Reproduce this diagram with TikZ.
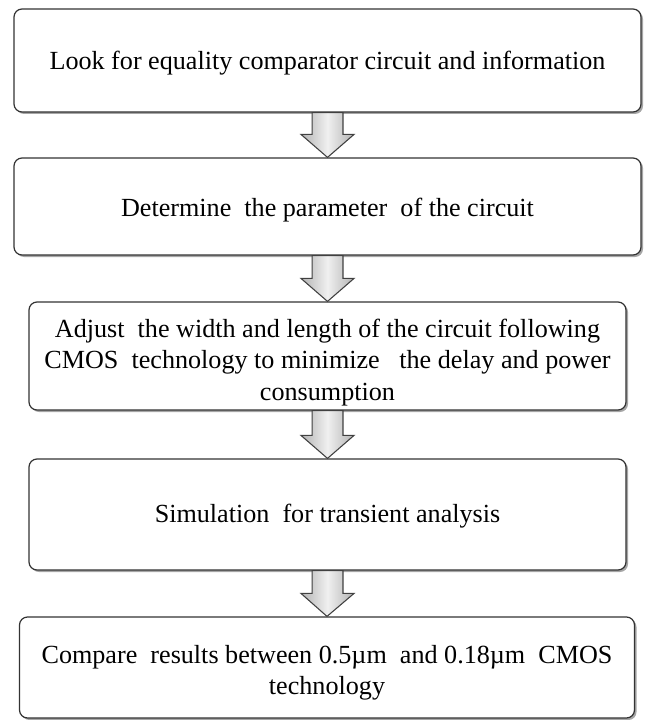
\documentclass[tikz,border=0pt]{standalone}
\usepackage{fontspec}
\setmainfont{Liberation Serif}
\usetikzlibrary{calc,shadows}
\tikzset{
  stepbox/.style={draw=black!80, line width=0.9pt, rounded corners=6pt, fill=white,
    drop shadow={shadow xshift=1.5pt, shadow yshift=-1.5pt, opacity=.35, fill=black},
    inner sep=0pt, font=\fontsize{19.6}{23.3}\selectfont},
  blockarrow/.style={draw=black!75, line width=0.8pt, left color=gray!60, right color=gray!60, middle color=gray!12}
}
% text whose last baseline lies #1 below the centre of its box
\newcommand\steptext[2]{\raisebox{-#1}[0pt][0pt]{\makebox[0pt]{\parbox[b]{470pt}{\centering #2}}}}
\newcommand\flowarrow[2]{%
  \path[blockarrow] let \p1=(#1.south), \p2=(#2.north) in
   (\x1-11.6pt,\y1) -- (\x1-11.6pt,\y2+17.25pt) -- (\x1-19.9pt,\y2+17.25pt) -- (\x2,\y2)
   -- (\x1+19.9pt,\y2+17.25pt) -- (\x1+11.6pt,\y2+17.25pt) -- (\x1+11.6pt,\y1) -- cycle;}
\begin{document}
\begin{tikzpicture}[x=0.75pt,y=-0.75pt]
\useasboundingbox[fill=white] (0,0) rectangle (647,720);
\node[stepbox, minimum width={627*0.75pt}, minimum height={103*0.75pt}] (b1) at (327.5,60.5)
  {\steptext{7pt}{Look for equality comparator circuit and information}};
\node[stepbox, minimum width={627*0.75pt}, minimum height={97*0.75pt}] (b2) at (327.5,206.5)
  {\steptext{7.5pt}{Determine\ \ the parameter\ \ of the circuit}};
\node[stepbox, minimum width={597*0.75pt}, minimum height={108*0.75pt}] (b3) at (327.5,356)
  {\steptext{33pt}{Adjust\ \ the width and length of the circuit following\\CMOS\ \ technology to minimize\ \ \ the delay and power\\consumption}};
\node[stepbox, minimum width={597*0.75pt}, minimum height={111*0.75pt}] (b4) at (327.5,514.5)
  {\steptext{6pt}{Simulation\ \ for transient analysis}};
\node[stepbox, minimum width={615*0.75pt}, minimum height={101*0.75pt}] (b5) at (327,667.5)
  {\steptext{20.6pt}{Compare\ \ results between 0.5µm\ \ and 0.18µm\ \ CMOS\\technology}};
\flowarrow{b1}{b2}
\flowarrow{b2}{b3}
\flowarrow{b3}{b4}
\flowarrow{b4}{b5}
\end{tikzpicture}
\end{document}
